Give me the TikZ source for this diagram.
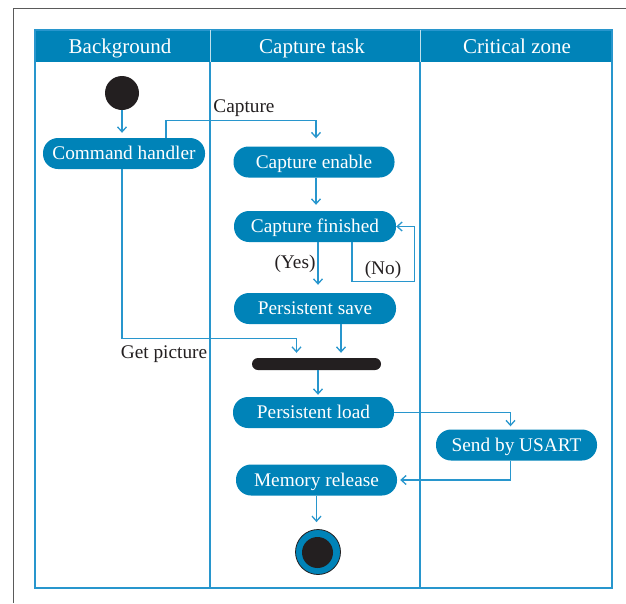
\documentclass[tikz,border=0pt]{standalone}
\usepackage{fontspec}
\setmainfont{Liberation Serif}
\usetikzlibrary{arrows.meta}
\definecolor{hdr}{RGB}{0,131,184}
\definecolor{ln}{RGB}{40,150,205}
\definecolor{blk}{RGB}{35,31,32}
\definecolor{frm}{RGB}{90,90,90}
\begin{document}
\begin{tikzpicture}[x=1pt,y=-1pt,
  pill/.style={fill=hdr, rounded corners=15pt, minimum width=161pt, minimum height=31pt,
    inner sep=0pt, text=white, font=\fontsize{19.3}{21}\selectfont,
    text height=15pt, text depth=2.5pt},
  conn/.style={draw=ln, line width=1.3pt, shorten >=#1,
    -{Straight Barb[length=5pt,width=9pt,line width=1.3pt]}},
  conn/.default=5pt,
  lbl/.style={font=\fontsize{19.3}{21}\selectfont, text=blk, inner sep=0pt},
  hd/.style={font=\fontsize{21}{23}\selectfont, text=white, inner sep=0pt,
    text height=16pt, text depth=2pt},
  lane/.style={draw=ln, line width=1.3pt},
]
\useasboundingbox (0,0) rectangle (626,603);
% outer frame
\draw[frm, line width=1.3pt] (626,8.5) -- (13.5,8.5) -- (13.5,603);
% swimlanes
\fill[hdr] (35,30) rectangle (612,62);
\draw[lane] (35,30) rectangle (612,588);
\draw[lane] (210,62) -- (210,588);
\draw[lane] (420,62) -- (420,588);
\draw[white!75!hdr, line width=1pt] (210,30) -- (210,62);
\draw[white!75!hdr, line width=1pt] (420,30) -- (420,62);
\node[hd] (h1) at (120,46) {Background};
\node[hd] (h2) at (312,46) {Capture task};
\node[hd] (h3) at (517,46) {Critical zone};
% nodes
\node[circle, fill=blk, minimum size=34pt, inner sep=0pt] (start) at (122,93) {};
\node[pill, minimum width=162pt] (cmd) at (124,153.5) {Command handler};
\node[pill] (capen) at (314,162) {Capture enable};
\node[pill, minimum width=162pt] (fin) at (315,226.5) {Capture finished};
\node[pill, minimum width=162pt] (save) at (315,308.5) {Persistent save};
\node[fill=blk, rounded corners=6pt, minimum width=129pt, minimum height=12pt, inner sep=0pt] (bar) at (316.5,364) {};
\node[pill] (load) at (313.5,412.5) {Persistent load};
\node[pill] (usart) at (516.5,445) {Send by USART};
\node[pill] (mem) at (316.5,480) {Memory release};
\node[circle, fill=hdr, draw=blk, line width=0.8pt, minimum width=45pt, minimum height=42pt, inner sep=0pt] (end) at (318,552) {};
\node[circle, fill=blk, minimum size=31pt, inner sep=0pt] (endin) at (317.5,552.5) {};
% labels
\node[lbl] (lcap) at (244,108) {Capture};
\node[lbl] (lyes) at (295,264) {(Yes)};
\node[lbl] (lno) at (383,270) {(No)};
\node[lbl] (lgp) at (164,354) {Get picture};
% connectors
\draw[conn] (start.south) -- (start.south |- cmd.north);
\draw[conn=8pt] ([xshift=42pt]cmd.north) -- ++(0,-17) -| ([xshift=2pt]capen.north);
\draw[conn=6pt] ([xshift=2pt]capen.south) -- ([xshift=1pt]fin.north);
\draw[conn=8pt] ([xshift=3pt]fin.south) -- ([xshift=3pt]save.north);
\draw[conn=0pt] ([xshift=37pt]fin.south) -- ++(0,39) -| ([xshift=18pt]fin.east) -- (fin.east);
\draw[conn] ([xshift=-2pt]cmd.south) |- ([xshift=-20pt,yshift=19pt]bar.north) -- ([xshift=-20pt]bar.north);
\draw[conn] ([xshift=26pt]save.south) -- ([xshift=24.5pt]bar.north);
\draw[conn=2pt] ([xshift=1.5pt]bar.south) -- ([xshift=4.5pt]load.north);
\draw[conn=3pt] (load.east) -| ([xshift=-6pt]usart.north);
\draw[conn=3pt] ([xshift=-6pt]usart.south) |- (mem.east);
\draw[conn=7pt] (mem.south) -- (mem.south |- end.north);
\end{tikzpicture}
\end{document}
